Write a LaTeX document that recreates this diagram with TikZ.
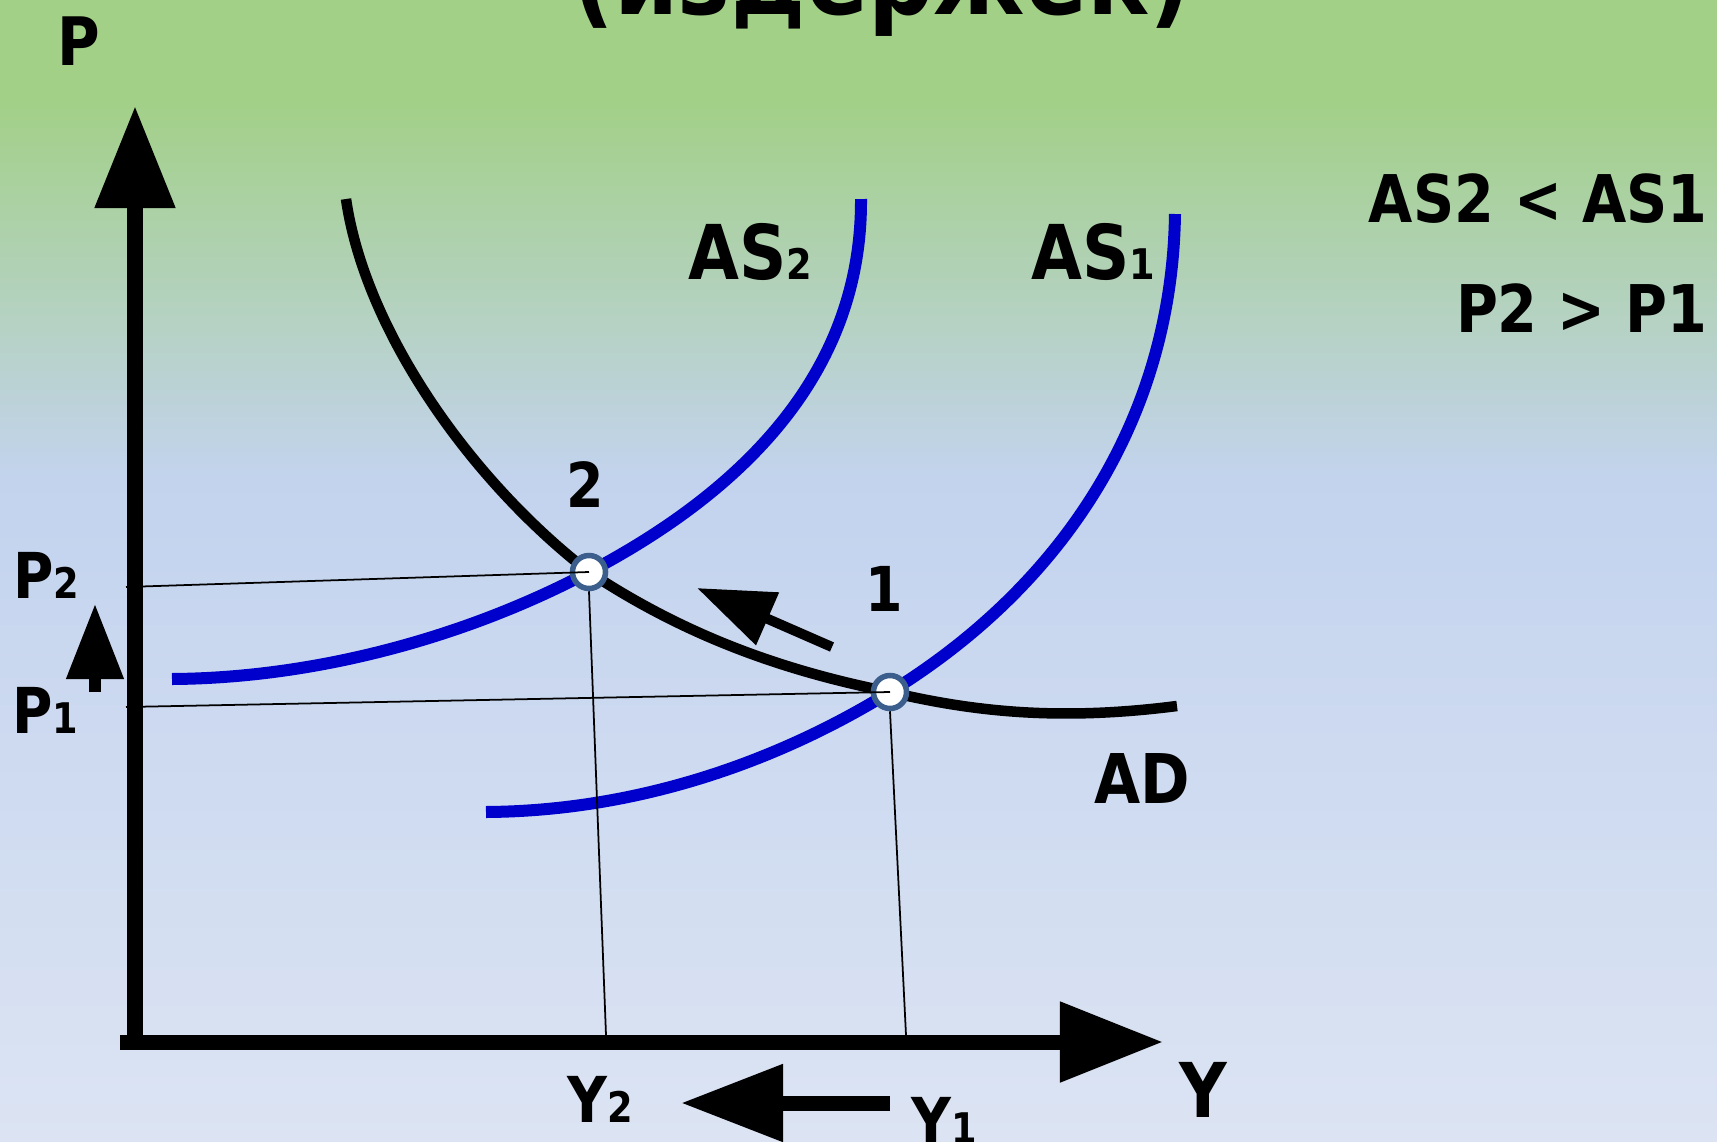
\documentclass[tikz,border=0pt]{standalone}
\usepackage{fontspec}
\setmainfont{DejaVu Sans}[FakeStretch=0.87]
\usetikzlibrary{arrows.meta}
\definecolor{bggreen}{RGB}{162,208,135}
\definecolor{bgblue}{RGB}{195,211,238}
\definecolor{bglight}{RGB}{220,228,243}
\definecolor{asblue}{RGB}{0,0,204}
\definecolor{ptring}{RGB}{59,94,140}
\tikzset{
  axis/.style={line width=0.15cm, color=black},
  adcurve/.style={line width=0.105cm, color=black},
  ascurve/.style={line width=0.12cm, color=asblue},
  guide/.style={line width=0.5pt, color=black},
  eqpoint/.style={circle, draw=ptring, fill=white, line width=0.055cm, minimum size=0.33cm, inner sep=0pt},
  lbl/.style={inner sep=0pt, font=\bfseries\fontsize{#1}{#1}\selectfont},
  lbl/.default=18,
  movearrow/.style={line width=#1, color=black}
}
\newcommand{\subdig}[1]{{\fontsize{12}{12}\selectfont #1}}

\begin{document}
\begin{tikzpicture}[x=0.01cm, y=-0.01cm]
  \clip (0,0) rectangle (1717,1142);
  % ═══════════════════════════════════════════════════════════════
  % BACKGROUND
  % ═══════════════════════════════════════════════════════════════
  \fill[bggreen] (0,0) rectangle (1717,100);
  \shade[top color=bggreen, bottom color=bgblue] (0,99) rectangle (1717,480);
  \shade[top color=bgblue, bottom color=bglight] (0,479) rectangle (1717,1142);

  \node[lbl=30, anchor=base] (title) at (882,14) {(издержек)};

  % ═══════════════════════════════════════════════════════════════
  % AXES
  % ═══════════════════════════════════════════════════════════════
  \draw[axis, -{Triangle[length=1.02cm, width=0.77cm]}] (135,1049) -- (135,106);
  \draw[axis, -{Triangle[length=1.03cm, width=0.77cm]}] (120,1042) -- (1163,1042);
  \node[lbl=19] (plabel) at (79,41) {P};
  \node[lbl=21.5] (ylabel) at (1203,1090) {Y};

  % ═══════════════════════════════════════════════════════════════
  % CURVES
  % ═══════════════════════════════════════════════════════════════
  \coordinate (E2) at (589,572);
  \coordinate (E1) at (890,692);

  \draw[adcurve] (346,199) .. controls (365,330) and (470,480) .. (E2)
    .. controls (690,639) and (790,672) .. (E1)
    .. controls (975,712) and (1060,721) .. (1177,706);
  \draw[ascurve] (172,679) .. controls (320,678) and (470,635) .. (E2)
    .. controls (760,482) and (862,360) .. (861,199);
  \draw[ascurve] (486,812) .. controls (640,811) and (780,760) .. (E1)
    .. controls (1062,586) and (1172,420) .. (1175,214);

  \node[lbl=21.5] (as2) at (750,252) {AS\subdig{2}};
  \node[lbl=21.5] (as1) at (1093,252) {AS\subdig{1}};
  \node[lbl=19.5] (ad) at (1142,778) {AD};

  % Equilibrium points
  \node[eqpoint] (pt2) at (E2) {};
  \node[eqpoint] (pt1) at (E1) {};
  \node[lbl=17.6] (num2) at (585,485) {2};
  \node[lbl=17.6] (num1) at (884,589) {1};

  % Guide lines
  \coordinate (tickP2) at (126,587);
  \coordinate (tickP1) at (126,707);
  \coordinate (tickY2) at (606,1035);
  \coordinate (tickY1) at (906,1035);
  \draw[guide] (tickP2) -- (pt2.center);
  \draw[guide] (tickP1) -- (pt1.center);
  \draw[guide] (pt2.south) -- (tickY2);
  \draw[guide] (pt1.south) -- (tickY1);

  \node[lbl=18] (p2) at (46,575) {P\subdig{2}};
  \node[lbl=18] (p1) at (45,710) {P\subdig{1}};
  \node[lbl=18] (y2) at (600,1099) {Y\subdig{2}};
  \node[lbl=18] (y1) at (944,1120) {Y\subdig{1}};

  % ═══════════════════════════════════════════════════════════════
  % SHIFT ARROWS
  % ═══════════════════════════════════════════════════════════════
  \coordinate (upfrom) at (95,692);
  \coordinate (upto) at (95,604);
  \draw[movearrow=0.11cm, -{Triangle[length=0.75cm, width=0.55cm]}] (upfrom) -- (upto);
  \coordinate (leftfrom) at (890,1103);
  \coordinate (leftto) at (681,1103);
  \draw[movearrow=0.15cm, -{Triangle[length=1.02cm, width=0.74cm]}] (leftfrom) -- (leftto);
  \coordinate (diagfrom) at (832,647);
  \coordinate (diagto) at (697,588);
  \draw[movearrow=0.10cm, -{Triangle[length=0.77cm, width=0.55cm]}] (diagfrom) -- (diagto);

  % Relations
  \node[lbl=18.7, anchor=east] (rel1) at (1708,199) {AS2 < AS1};
  \node[lbl=18.7, anchor=east] (rel2) at (1708,308) {P2 > P1};
\end{tikzpicture}
\end{document}
